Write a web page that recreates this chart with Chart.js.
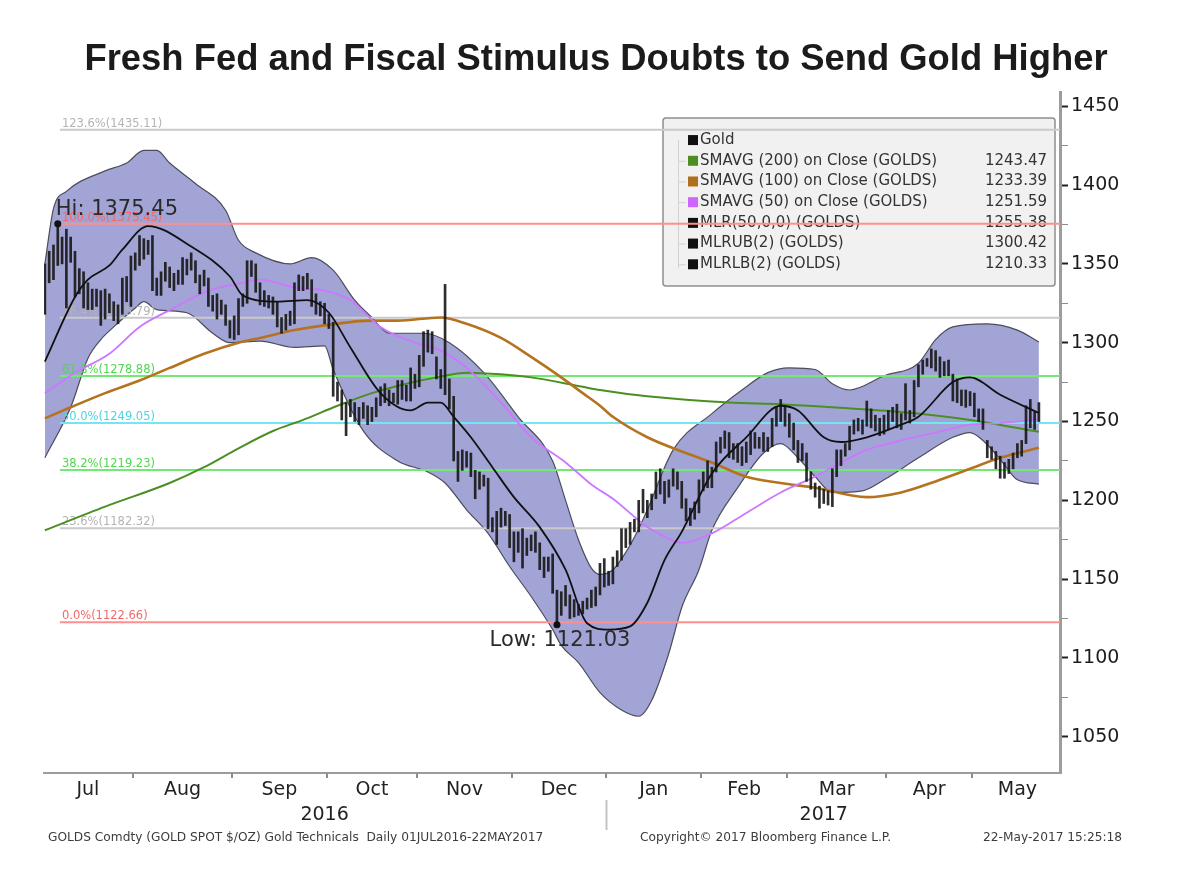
<!DOCTYPE html>
<html>
<head>
<meta charset="utf-8">
<title>Gold Technicals</title>
<script src="https://cdn.jsdelivr.net/npm/chart.js@4.4.1/dist/chart.umd.min.js"></script>
<style>
  body { margin: 0; background: #fff; }
  #gold-chart { display: block; }
</style>
</head>
<body>
<canvas id="gold-chart" width="1192" height="886"></canvas>
<script>
// GOLDS daily bars 01JUL2016-22MAY2017, one entry per trading day
const monthNames = ['Jul', 'Aug', 'Sep', 'Oct', 'Nov', 'Dec', 'Jan', 'Feb', 'Mar', 'Apr', 'May'];
const monthDays = [21, 23, 22, 21, 22, 22, 22, 20, 23, 20, 16];
const yearNames = ['2016', '2017'];
const yearMonths = [6, 5];

const dayHigh = [
  1350, 1358, 1362, 1375.45, 1367, 1372, 1367, 1358, 1347, 1345, 1338, 1334, 1334, 1333, 1334, 1331, 1326, 1324, 1341, 1342, 1355,
  1357, 1368, 1366, 1365, 1368, 1341, 1345, 1351, 1348, 1344, 1346, 1354, 1353, 1357, 1352, 1343, 1346, 1341, 1330, 1331, 1327, 1324, 1314,
  1317, 1328, 1331, 1352, 1352, 1350, 1338, 1333, 1330, 1329, 1326, 1316, 1318, 1320, 1338, 1343, 1342, 1344, 1340, 1331, 1326, 1325,
  1318, 1313, 1275, 1270, 1262, 1264, 1262, 1259, 1262, 1260, 1259, 1265, 1272, 1274, 1270, 1268, 1276, 1276, 1273, 1284, 1280,
  1292, 1307, 1308, 1307, 1291, 1283, 1337, 1277, 1266, 1231, 1232, 1231, 1230, 1219, 1218, 1216, 1214, 1189, 1193, 1195, 1193, 1191,
  1180, 1180, 1182, 1176, 1178, 1180, 1173, 1164, 1164, 1166, 1143, 1142, 1146, 1140, 1137, 1134, 1136, 1138, 1143, 1145, 1160, 1163,
  1155, 1164, 1168, 1182, 1182, 1186, 1188, 1200, 1207, 1200, 1204, 1218, 1220, 1212, 1213, 1220, 1218, 1212, 1201, 1195, 1199, 1213,
  1218, 1225, 1221, 1237, 1240, 1244, 1243, 1236, 1236, 1234, 1237, 1244, 1243, 1240, 1243, 1240, 1252, 1259, 1264, 1259,
  1255, 1249, 1238, 1236, 1230, 1218, 1211, 1209, 1207, 1206, 1220, 1232, 1232, 1236, 1247, 1251, 1252, 1251, 1263, 1258, 1254, 1252, 1254,
  1257, 1259, 1261, 1255, 1274, 1257, 1276, 1286, 1289, 1290, 1296, 1295, 1291, 1288, 1289, 1280, 1277, 1270, 1270, 1269,
  1268, 1258, 1258, 1238, 1234, 1231, 1228, 1224, 1226, 1230, 1236, 1238, 1260, 1264, 1256, 1262
];
const dayLow = [
  1318, 1338, 1340, 1349, 1350, 1322, 1351, 1329, 1331, 1322, 1321, 1321, 1323, 1311, 1315, 1319, 1314, 1312, 1318, 1326, 1323,
  1346, 1349, 1353, 1356, 1333, 1330, 1330, 1339, 1335, 1333, 1337, 1337, 1343, 1346, 1338, 1331, 1336, 1323, 1320, 1315, 1318, 1311, 1303,
  1302, 1305, 1323, 1325, 1342, 1332, 1324, 1323, 1322, 1318, 1310, 1306, 1308, 1311, 1312, 1333, 1333, 1334, 1323, 1318, 1317, 1312,
  1309, 1266, 1263, 1251, 1241, 1253, 1250, 1248, 1252, 1248, 1250, 1253, 1260, 1262, 1260, 1262, 1261, 1264, 1263, 1263, 1271,
  1272, 1285, 1294, 1293, 1277, 1271, 1267, 1258, 1225, 1212, 1219, 1221, 1215, 1201, 1207, 1209, 1182, 1180, 1172, 1183, 1184, 1170,
  1161, 1167, 1157, 1165, 1168, 1167, 1156, 1151, 1155, 1141, 1121.03, 1127, 1133, 1125, 1126, 1127, 1128, 1131, 1132, 1133, 1140, 1145,
  1146, 1147, 1158, 1162, 1170, 1172, 1180, 1180, 1192, 1189, 1194, 1201, 1204, 1198, 1202, 1209, 1207, 1195, 1187, 1184, 1188, 1192,
  1206, 1208, 1208, 1218, 1230, 1233, 1227, 1226, 1224, 1222, 1224, 1229, 1233, 1233, 1231, 1231, 1234, 1247, 1250, 1247,
  1240, 1232, 1224, 1225, 1212, 1207, 1202, 1195, 1198, 1197, 1196, 1215, 1222, 1228, 1232, 1242, 1244, 1242, 1247, 1246, 1244, 1241, 1242,
  1245, 1250, 1246, 1245, 1251, 1249, 1253, 1272, 1280, 1285, 1284, 1282, 1278, 1279, 1279, 1263, 1262, 1260, 1259, 1260,
  1253, 1250, 1245, 1227, 1226, 1220, 1214, 1214, 1217, 1220, 1227, 1228, 1236, 1246, 1245, 1250
];

// studies, read at trading-day index
const mlrDay = [0, 7, 10, 15, 18, 24, 34, 43, 46, 54, 61, 66, 71, 78, 85, 89, 92, 95, 99, 104, 109, 115, 121, 126, 131, 136, 140, 144, 148, 155, 163, 171, 175, 181, 185, 191, 199, 203, 211, 215, 222, 231];
const mlr = [1288, 1329, 1340, 1349, 1359, 1374, 1361, 1342, 1330, 1326, 1327, 1319, 1297, 1268, 1257, 1262, 1262, 1253, 1240, 1221, 1202, 1183, 1156, 1122, 1118, 1120, 1135, 1162, 1180, 1217, 1240, 1260, 1257, 1240, 1237, 1240, 1248, 1253, 1275, 1278, 1267, 1255.38];

const ubDay = [0, 2, 5, 14, 19, 23, 26, 29, 35, 42, 45, 49, 57, 62, 67, 72, 76, 80, 88, 94, 102, 110, 118, 121, 124, 127, 129, 132, 135, 138, 140, 146, 155, 162, 168, 173, 179, 183, 187, 195, 203, 207, 211, 219, 226, 231];
const mlrUpper = [1350, 1385, 1396, 1409, 1414, 1422, 1422, 1414, 1401, 1384, 1365, 1357, 1350, 1354, 1346, 1327, 1316, 1306, 1306, 1300, 1281, 1253, 1225, 1200, 1175, 1157, 1153, 1156, 1167, 1182, 1194, 1232, 1255, 1270, 1281, 1284, 1283, 1274, 1270, 1279, 1287, 1302, 1310, 1312, 1308, 1300.42];

const lbDay = [0, 6, 10, 13, 16, 21, 23, 26, 33, 39, 43, 50, 58, 65, 67, 74, 82, 89, 93, 98, 103, 108, 113, 118, 120, 124, 129, 134, 138, 141, 145, 148, 152, 155, 161, 167, 171, 175, 179, 183, 190, 195, 203, 211, 215, 218, 222, 226, 231];
const mlrLower = [1227, 1259, 1290, 1302, 1310, 1322, 1326, 1321, 1319, 1306, 1300, 1301, 1297, 1298, 1283, 1244, 1225, 1218, 1211, 1194, 1179, 1158, 1139, 1118, 1108, 1097, 1078, 1067, 1063, 1073, 1103, 1132, 1156, 1181, 1208, 1230, 1236, 1227, 1215, 1205, 1206, 1213, 1227, 1240, 1243, 1238, 1226, 1213, 1210.33];

const ma200Day = [0, 14, 29, 37, 45, 53, 60, 68, 76, 84, 91, 98, 106, 113, 125, 129, 140, 159, 171, 183, 199, 215, 231];
const ma200 = [1181, 1196, 1211, 1221, 1233, 1244, 1251, 1260, 1268, 1274, 1278, 1281, 1280, 1278, 1272, 1270, 1266, 1262, 1261, 1259, 1256, 1251, 1243.47];

const ma100Day = [0, 6, 14, 22, 29, 37, 45, 50, 58, 65, 76, 82, 92, 98, 106, 113, 120, 125, 129, 132, 140, 148, 155, 163, 171, 179, 191, 199, 207, 215, 222, 231];
const ma100 = [1252, 1259, 1268, 1276, 1284, 1293, 1300, 1303, 1308, 1311, 1314, 1314, 1316, 1312, 1303, 1291, 1278, 1268, 1260, 1253, 1240, 1231, 1224, 1215, 1211, 1208, 1202, 1205, 1212, 1220, 1227, 1233.39];

const ma50Day = [0, 7, 15, 22, 30, 38, 46, 50, 58, 65, 71, 78, 86, 92, 98, 106, 113, 121, 124, 127, 132, 140, 144, 148, 155, 163, 171, 179, 191, 199, 207, 215, 222, 231];
const ma50 = [1268, 1281, 1293, 1310, 1322, 1333, 1338, 1340, 1335, 1333, 1327, 1310, 1300, 1295, 1284, 1262, 1240, 1224, 1217, 1210, 1201, 1183, 1177, 1173, 1179, 1192, 1205, 1215, 1232, 1238, 1243, 1248, 1249, 1251.59];

// fibonacci retracement levels
const fibPct = ['123.6%', '100.0%', '76.4%', '61.8%', '50.0%', '38.2%', '23.6%', '0.0%'];
const fibLevel = [1435.11, 1375.45, 1315.79, 1278.88, 1249.05, 1219.23, 1182.32, 1122.66];

const priceTicks = [1050, 1100, 1150, 1200, 1250, 1300, 1350, 1400, 1450];

const legendNames = ['Gold', 'SMAVG (200) on Close (GOLDS)', 'SMAVG (100) on Close (GOLDS)', 'SMAVG (50) on Close (GOLDS)', 'MLR(50,0,0) (GOLDS)', 'MLRUB(2) (GOLDS)', 'MLRLB(2) (GOLDS)'];
const legendLast = ['', '1243.47', '1233.39', '1251.59', '1255.38', '1300.42', '1210.33'];

const titleText = 'Fresh Fed and Fiscal Stimulus Doubts to Send Gold Higher';
const footLeft = 'GOLDS Comdty (GOLD SPOT $/OZ) Gold Technicals  Daily 01JUL2016-22MAY2017';
const footMid = 'Copyright\u00A9 2017 Bloomberg Finance L.P.';
const footRight = '22-May-2017 15:25:18';

// styles
const fibLine = ['#cacaca', '#ff8f8f', '#cacaca', '#72ea72', '#72e6f2', '#72ea72', '#cacaca', '#ff8f8f'];
const fibInk = ['#b4b4b4', '#f06a6a', '#b4b4b4', '#4fd84f', '#4fd2e0', '#4fd84f', '#b4b4b4', '#f06a6a'];
const legendSwatch = ['#111111', '#4b8f23', '#b06f1c', '#cc66ff', '#111111', '#111111', '#111111'];
const FONT = '"DejaVu Sans", Verdana, sans-serif';
const X_MIN = -0.2, X_MAX = 235.9, Y_MIN = 1027, Y_MAX = 1459, FIB_FROM = 3.5;

let goldChart;

const pts = (xs, ys) => xs.map((x, i) => ({ x: x, y: ys[i] }));

function monthLayout() {
  const starts = [];
  let acc = 0;
  monthDays.forEach(d => { starts.push(acc); acc += d; });
  const edges = starts.slice(1).map(s => s - 0.5);
  // last month is partial: Bloomberg centres its label on the whole month
  const mids = starts.map((s, i) => i === starts.length - 1 ? s + 10 : s + (monthDays[i] - 1) / 2);
  const years = [];
  let m = 0;
  yearMonths.forEach(n => {
    const a = starts[m] - 0.5;
    const b = (m + n < starts.length) ? starts[m + n] - 0.5 : acc - 0.5;
    years.push({ from: a, to: b });
    m += n;
  });
  return { edges, mids, years };
}

const overlayPlugin = {
  id: 'bbgOverlay',
  beforeDatasetsDraw(chart) {
    const { ctx, chartArea } = chart;
    const w = 392, h = 168;
    const left = chartArea.right - w - 5, top = chartArea.top + 26;
    ctx.save();
    ctx.beginPath();
    ctx.roundRect(left, top, w, h, 3);
    ctx.fillStyle = '#f1f1f1';
    ctx.fill();
    ctx.lineWidth = 1.5;
    ctx.strokeStyle = '#8e8e8e';
    ctx.stroke();
    const rowY = i => top + 22 + i * 20.7;
    ctx.strokeStyle = '#d2d2d2';
    ctx.lineWidth = 1;
    ctx.beginPath();
    ctx.moveTo(left + 15.5, rowY(0));
    ctx.lineTo(left + 15.5, rowY(6) + 4);
    for (let i = 1; i < legendNames.length; i++) {
      ctx.moveTo(left + 15.5, rowY(i) + 0.5);
      ctx.lineTo(left + 23, rowY(i) + 0.5);
    }
    ctx.stroke();
    ctx.font = '15px ' + FONT;
    ctx.textBaseline = 'middle';
    legendNames.forEach((name, i) => {
      const y = rowY(i);
      ctx.fillStyle = legendSwatch[i];
      ctx.fillRect(left + 25, y - 5, 10, 10);
      ctx.fillStyle = '#333';
      ctx.textAlign = 'left';
      ctx.fillText(name, left + 37, y);
      ctx.textAlign = 'right';
      ctx.fillText(legendLast[i], left + w - 8, y);
    });
    ctx.restore();
  },
  afterDatasetDraw(chart, args) {
    const ds = chart.data.datasets[args.index];
    if (ds.fibIndex === undefined) return;
    const k = ds.fibIndex;
    const { ctx, scales } = chart;
    const y = scales.y.getPixelForValue(fibLevel[k]);
    const x = scales.x.getPixelForValue(FIB_FROM) + 2;
    ctx.save();
    ctx.font = '11.5px ' + FONT;
    ctx.fillStyle = fibInk[k];
    ctx.textAlign = 'left';
    ctx.textBaseline = 'alphabetic';
    ctx.fillText(fibPct[k] + '(' + fibLevel[k].toFixed(2) + ')', x, y - 3);
    ctx.restore();
  },
  afterDatasetsDraw(chart) {
    const { ctx, scales } = chart;
    const hi = dayHigh.indexOf(Math.max(...dayHigh));
    const lo = dayLow.indexOf(Math.min(...dayLow));
    ctx.save();
    ctx.font = '21px ' + FONT;
    ctx.fillStyle = '#2a2a2a';
    ctx.textBaseline = 'middle';
    ctx.textAlign = 'left';
    ctx.fillText('Hi: ' + dayHigh[hi].toFixed(2), scales.x.getPixelForValue(hi) - 2, scales.y.getPixelForValue(dayHigh[hi]) - 14);
    ctx.textAlign = 'center';
    ctx.fillText('Low: ' + dayLow[lo].toFixed(2), scales.x.getPixelForValue(lo) + 3, scales.y.getPixelForValue(dayLow[lo]) + 16);
    ctx.restore();
  },
  afterDraw(chart) {
    const { ctx, scales, chartArea } = chart;
    const lay = monthLayout();
    ctx.save();
    // month boundary tick marks under the time axis
    ctx.strokeStyle = '#8c8c8c';
    ctx.lineWidth = 2;
    ctx.beginPath();
    lay.edges.forEach(v => {
      const x = Math.round(scales.x.getPixelForValue(v));
      ctx.moveTo(x, chartArea.bottom);
      ctx.lineTo(x, chartArea.bottom + 5);
    });
    ctx.stroke();
    // year separator
    ctx.strokeStyle = '#c4c4c4';
    for (let i = 1; i < lay.years.length; i++) {
      const x = Math.round(scales.x.getPixelForValue(lay.years[i].from)) + 0.5;
      ctx.beginPath();
      ctx.moveTo(x, 800);
      ctx.lineTo(x, 830);
      ctx.stroke();
    }
    ctx.font = '12.2px ' + FONT;
    ctx.fillStyle = '#3c3c3c';
    ctx.textBaseline = 'middle';
    ctx.textAlign = 'left';
    ctx.fillText(footLeft, 48, 838);
    ctx.fillText(footMid, 640, 838);
    ctx.textAlign = 'right';
    ctx.fillText(footRight, 1122, 838);
    ctx.restore();
  }
};

function initChart() {
  const lay = monthLayout();
  const yearMid = lay.years.map(r => (r.from + r.to) / 2);
  const minorTicks = [];
  priceTicks.forEach((v, i) => {
    minorTicks.push(v);
    if (i < priceTicks.length - 1) minorTicks.push((v + priceTicks[i + 1]) / 2);
  });
  const isMajor = v => priceTicks.includes(v);

  const curve = (label, xs, ys, color, width, order, extra) => Object.assign({
    type: 'line', label: label, data: pts(xs, ys), borderColor: color, borderWidth: width,
    pointRadius: 0, cubicInterpolationMode: 'monotone', fill: false, order: order
  }, extra || {});

  const fibSets = fibLevel.map((v, k) => ({
    type: 'line', label: fibPct[k], fibIndex: k,
    data: [{ x: FIB_FROM, y: v }, { x: X_MAX, y: v }],
    borderColor: fibLine[k], borderWidth: 2, pointRadius: 0, fill: false, order: 8
  }));

  const hi = dayHigh.indexOf(Math.max(...dayHigh));
  const lo = dayLow.indexOf(Math.min(...dayLow));

  const noGrid = { display: false, drawTicks: false, tickLength: 0 };

  const ctx = document.getElementById('gold-chart').getContext('2d');
  goldChart = new Chart(ctx, {
    type: 'line',
    data: {
      datasets: [
        curve('MLRUB(2)', ubDay, mlrUpper, '#4c4c5c', 1.2, 9),
        curve('MLRLB(2)', lbDay, mlrLower, '#4c4c5c', 1.2, 10, { fill: '-1', backgroundColor: '#a2a4d6' }),
        ...fibSets,
        curve('SMAVG (200)', ma200Day, ma200, '#4b8f23', 2, 7),
        curve('SMAVG (100)', ma100Day, ma100, '#b5721f', 2.6, 6),
        curve('SMAVG (50)', ma50Day, ma50, '#cc77ff', 1.8, 5),
        {
          type: 'bar', label: 'Gold',
          data: dayHigh.map((h, i) => ({ x: i, y: [dayLow[i], h] })),
          backgroundColor: 'rgba(22,22,22,0.9)', borderWidth: 0, barThickness: 2, order: 4
        },
        curve('MLR(50,0,0)', mlrDay, mlr, '#111111', 1.8, 3),
        {
          type: 'line', label: 'Hi/Low', showLine: false,
          data: [{ x: hi, y: dayHigh[hi] }, { x: lo, y: dayLow[lo] }],
          pointRadius: 3.5, pointBackgroundColor: '#111', pointBorderWidth: 0, order: 2
        }
      ]
    },
    options: {
      responsive: false,
      devicePixelRatio: 1,
      animation: false,
      events: [],
      layout: { padding: { top: 0, left: 0, right: 0, bottom: 58 } },
      scales: {
        x: {
          type: 'linear', position: 'bottom', min: X_MIN, max: X_MAX, offset: false,
          afterBuildTicks: s => { s.ticks = lay.edges.map(v => ({ value: v })); },
          afterFit: s => { s.height = 5; },
          border: { color: '#9c9c9c', width: 2 },
          grid: noGrid,
          ticks: { display: false }
        },
        xm: {
          type: 'linear', position: 'bottom', min: X_MIN, max: X_MAX, offset: false,
          afterBuildTicks: s => { s.ticks = lay.mids.map(v => ({ value: v })); },
          afterFit: s => { s.height = 24; },
          border: { display: false },
          grid: noGrid,
          ticks: { autoSkip: false, maxRotation: 0, padding: 1, color: '#222', font: { family: FONT, size: 19 },
                   callback: (v, i) => monthNames[i] }
        },
        xy: {
          type: 'linear', position: 'bottom', min: X_MIN, max: X_MAX, offset: false,
          afterBuildTicks: s => { s.ticks = yearMid.map(v => ({ value: v })); },
          afterFit: s => { s.height = 26; },
          border: { display: false },
          grid: noGrid,
          ticks: { autoSkip: false, maxRotation: 0, padding: 2, color: '#222', font: { family: FONT, size: 19 },
                   callback: (v, i) => yearNames[i] }
        },
        yl: {
          type: 'linear', position: 'left', min: Y_MIN, max: Y_MAX,
          afterFit: s => { s.width = 44; },
          border: { display: false },
          grid: noGrid,
          ticks: { display: false }
        },
        y: {
          type: 'linear', position: 'right', min: Y_MIN, max: Y_MAX,
          afterBuildTicks: s => { s.ticks = minorTicks.map(v => ({ value: v })); },
          afterFit: s => { s.width = 132; },
          border: { color: '#9c9c9c', width: 3 },
          grid: {
            drawOnChartArea: false, drawTicks: true, tickLength: 8,
            tickColor: c => (c.tick && isMajor(c.tick.value)) ? '#222' : '#8c8c8c',
            tickWidth: c => (c.tick && isMajor(c.tick.value)) ? 2 : 1
          },
          ticks: {
            autoSkip: false, padding: 3, color: '#1c1c1c', font: { family: FONT, size: 19 },
            callback: v => isMajor(v) ? String(v) : ''
          }
        }
      },
      plugins: {
        legend: { display: false },
        tooltip: { enabled: false },
        title: {
          display: true, text: titleText, color: '#1b1b1b',
          font: { family: '"Liberation Sans", Arial, sans-serif', size: 36.4, weight: 'bold' },
          padding: { top: 38, bottom: 10.4 }
        }
      }
    },
    plugins: [overlayPlugin]
  });
}

initChart();
</script>
</body>
</html>
